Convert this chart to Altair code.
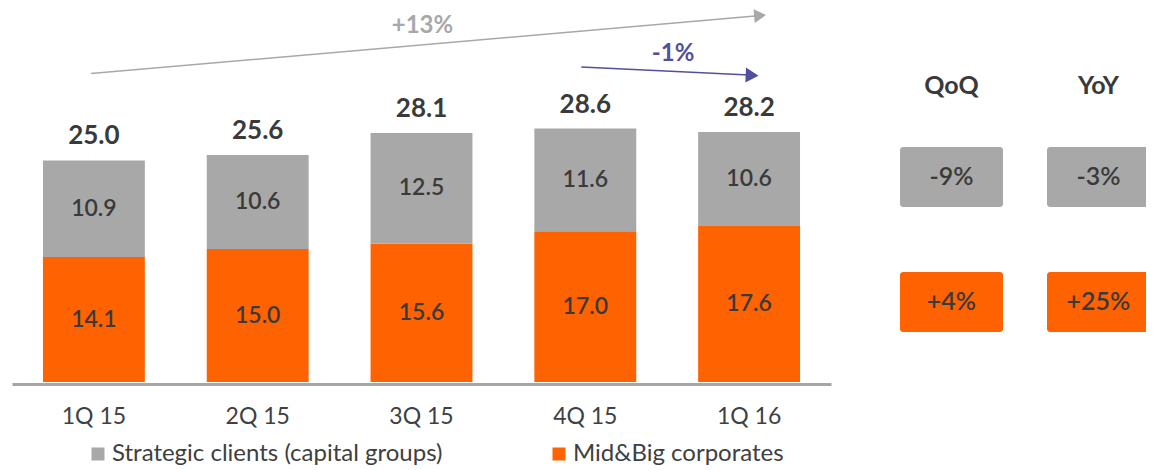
import altair as alt
import pandas as pd

# ---- data ----
quarters = ["1Q 15", "2Q 15", "3Q 15", "4Q 15", "1Q 16"]
strategic = [10.9, 10.6, 12.5, 11.6, 10.6]
midbig = [14.1, 15.0, 15.6, 17.0, 17.6]
totals = [25.0, 25.6, 28.1, 28.6, 28.2]
segments = ["Strategic clients (capital groups)", "Mid&Big corporates"]
seg_colors = ["#A8A8A8", "#FF6200"]
change_periods = ["QoQ", "YoY"]
qoq_changes = ["-9%", "+4%"]
yoy_changes = ["-3%", "+25%"]
trend_label = "+13%"
qoq_total_label = "-1%"

FONT = "Lato"
DARK = "#3A3A3A"
GREY_TXT = "#A8A8A8"
BLUE = "#534FA0"

# ---- tables ----
rows = []
for q, s, m in zip(quarters, strategic, midbig):
    rows.append({"quarter": q, "segment": segments[1], "value": m, "order": 0,
                 "mid": m / 2, "label": f"{m:.1f}"})
    rows.append({"quarter": q, "segment": segments[0], "value": s, "order": 1,
                 "mid": m + s / 2, "label": f"{s:.1f}"})
bars_df = pd.DataFrame(rows)
tot_df = pd.DataFrame({"quarter": quarters, "total": totals,
                       "label": [f"{t:.1f}" for t in totals]})

xscale = alt.Scale(domain=quarters, paddingInner=0.378, paddingOuter=0.189)
x = alt.X("quarter:N", scale=xscale,
          axis=alt.Axis(title=None, domainColor="#A6A6A6", domainWidth=3,
                        ticks=False, labelFontSize=23, labelColor="#404040",
                        labelFont=FONT, labelPadding=21, labelAngle=0,
                        offset=2, grid=False))
yscale = alt.Scale(domain=[0, 42.2], nice=False, zero=True)


def qx(field):
    return alt.X(f"{field}:N", scale=xscale)


bars = alt.Chart(bars_df).mark_bar().encode(
    x=x,
    y=alt.Y("value:Q", stack="zero", scale=yscale, axis=None),
    color=alt.Color("segment:N", sort=segments,
                    scale=alt.Scale(domain=segments, range=seg_colors),
                    legend=alt.Legend(orient="none", legendX=74, legendY=434,
                                      direction="horizontal", title=None,
                                      symbolType="square", symbolSize=169,
                                      symbolStrokeWidth=0, labelFontSize=24,
                                      labelFont=FONT, labelColor="#404040",
                                      columnPadding=104, labelOffset=2,
                                      labelLimit=0, padding=0)),
    order=alt.Order("order:Q"),
)

seg_text = alt.Chart(bars_df).mark_text(
    font=FONT, fontSize=23, fontWeight=600, color=DARK, baseline="middle"
).encode(
    x=qx("quarter"),
    y=alt.Y("mid:Q", stack=None),
    text="label:N",
)

tot_text = alt.Chart(tot_df).mark_text(
    font=FONT, fontSize=26, fontWeight="bold", color=DARK, baseline="middle", dy=-24
).encode(
    x=qx("quarter"),
    y=alt.Y("total:Q"),
    text="label:N",
)

# ---- trend arrows (annotation) ----
grey_line_df = pd.DataFrame({"q1": [quarters[0]], "q2": [quarters[4]],
                             "y1": [34.8], "y2": [41.3]})
grey_line = alt.Chart(grey_line_df).mark_rule(
    color="#A8A8A8", strokeWidth=1.5, xOffset=-3, x2Offset=6
).encode(x=qx("q1"), x2="q2:N", y="y1:Q", y2="y2:Q")
grey_head = alt.Chart(pd.DataFrame({"q": [quarters[4]], "y": [41.35]})).mark_point(
    shape="triangle-right", filled=True, size=190, color="#A8A8A8", opacity=1,
    xOffset=11, angle=355
).encode(x=qx("q"), y="y:Q")
grey_lab = alt.Chart(pd.DataFrame({"q": [quarters[2]], "y": [40.15],
                                   "t": [trend_label]})).mark_text(
    font=FONT, fontSize=24, fontWeight="bold", color=GREY_TXT, baseline="middle", dx=1
).encode(x=qx("q"), y="y:Q", text="t:N")

blue_line_df = pd.DataFrame({"q1": [quarters[3]], "q2": [quarters[4]],
                             "y1": [35.55], "y2": [34.65]})
blue_line = alt.Chart(blue_line_df).mark_rule(
    color=BLUE, strokeWidth=1.5, xOffset=-4, x2Offset=0
).encode(x=qx("q1"), x2="q2:N", y="y1:Q", y2="y2:Q")
blue_head = alt.Chart(pd.DataFrame({"q": [quarters[4]], "y": [34.6]})).mark_point(
    shape="triangle-right", filled=True, size=220, color=BLUE, opacity=1,
    xOffset=3, angle=3
).encode(x=qx("q"), y="y:Q")
blue_lab = alt.Chart(pd.DataFrame({"q": [quarters[4]], "y": [37.05],
                                   "t": [qoq_total_label]})).mark_text(
    font=FONT, fontSize=24, fontWeight="bold", color=BLUE, baseline="middle", dx=-76
).encode(x=qx("q"), y="y:Q", text="t:N")

left = alt.layer(bars, seg_text, tot_text, grey_line, grey_head, grey_lab,
                 blue_line, blue_head, blue_lab).properties(width=819, height=374)

# ---- right panel: changes ----
box_rows = []
for i, seg in enumerate(segments):
    box_rows.append({"period": "QoQ", "segment": seg, "t": qoq_changes[i], "fill": seg_colors[i]})
    box_rows.append({"period": "YoY", "segment": seg, "t": yoy_changes[i], "fill": seg_colors[i]})
box_df = pd.DataFrame(box_rows)

px = alt.X("period:N",
           scale=alt.Scale(domain=change_periods, range=[49, 299],
                           paddingInner=0.2993, paddingOuter=0),
           axis=None)
py = alt.Y("segment:N",
           scale=alt.Scale(domain=segments, paddingInner=0.52,
                           paddingOuter=0.756, align=0.7354),
           axis=None)

boxes = alt.Chart(box_df).mark_rect(cornerRadius=3, clip=True).encode(
    x=px, y=py, fill=alt.Fill("fill:N", scale=None))
box_text = alt.Chart(box_df).mark_text(
    font=FONT, fontSize=25, fontWeight=600, color=DARK, baseline="middle"
).encode(x=px, y=py, text="t:N")
headers = alt.Chart(pd.DataFrame({"period": change_periods})).mark_text(
    font=FONT, fontSize=25, fontWeight="bold", color=DARK, baseline="middle"
).encode(x=px, y=alt.value(78), text="period:N")

right = alt.layer(boxes, box_text, headers).properties(width=295, height=374)

chart = alt.hconcat(left, right, spacing=20).properties(
    padding={"left": 4, "top": 0, "right": 0, "bottom": 0}
).configure_view(stroke=None)

chart.save("out.html", embed_options={"renderer": "svg", "actions": False})
